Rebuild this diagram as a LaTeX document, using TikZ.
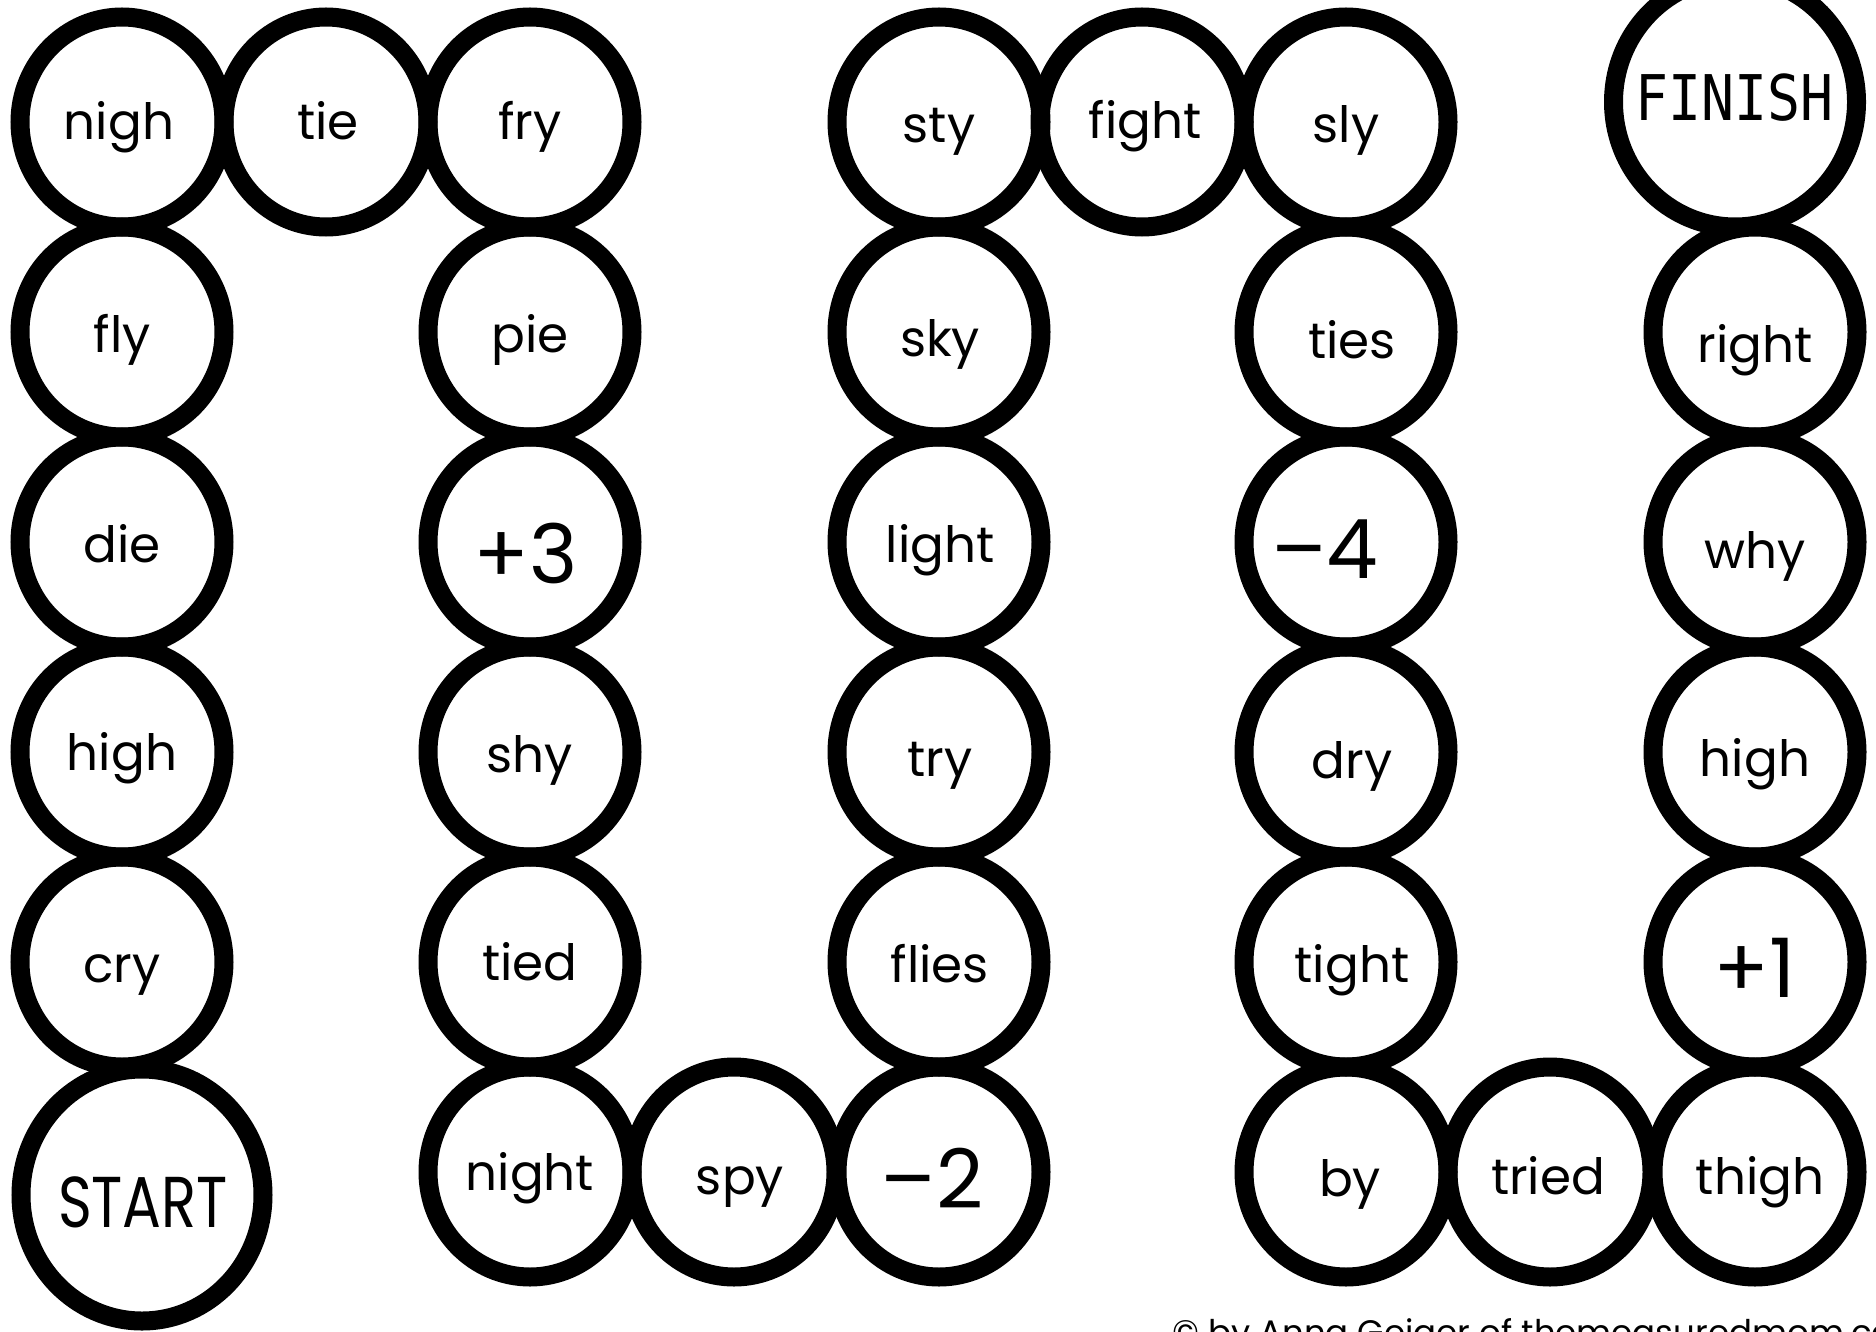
\documentclass[tikz,border=0pt]{standalone}
\usepackage{fontspec}
\setmainfont{Poppins}
\newfontfamily\monof{DejaVu Sans Mono}
\usetikzlibrary{shapes.geometric}
\newcommand\wrd[3]{\raisebox{-#3pt}[0pt][0pt]{\makebox[0pt]{\hspace{#2pt}\hspace{#2pt}#1}}}
\tikzset{
  spot/.style={ellipse, draw=black, line width=19pt, minimum width=204pt,
    minimum height=210pt, inner sep=0pt, outer sep=0pt,
    text height=0pt, text depth=0pt, font=\fontsize{50}{56}\selectfont},
  numspot/.style={spot, font=\fontsize{82}{90}\selectfont},
  bigspot/.style={spot, minimum width=242pt, minimum height=252pt},
}
\begin{document}
\begin{tikzpicture}[x=1pt,y=-1pt]
\useasboundingbox[fill=white] (0,0) rectangle (1876,1332);
% column 1
\node[spot] (nigh) at (122,122) {\wrd{nigh}{-3}{18}};
\node[spot] (fly)  at (122,332) {\wrd{fly}{0}{20}};
\node[spot] (die)  at (122,542) {\wrd{die}{0}{20}};
\node[spot] (highA) at (122,752) {\wrd{high}{0}{18}};
\node[spot] (cry)  at (122,962) {\wrd{cry}{0}{20}};
\node[bigspot, font=\fontsize{72}{80}\selectfont] (start) at (142,1195) {\wrd{\scalebox{0.8}[1]{START}}{1}{32}};
% top link
\node[spot] (tie)  at (326,122) {\wrd{tie}{2}{18}};
% column 2
\node[spot] (fry)  at (530,122) {\wrd{fry}{0}{18}};
\node[spot] (pie)  at (530,332) {\wrd{pie}{0}{20}};
\node[numspot] (p3) at (530,542) {\wrd{+3}{-4}{41}};
\node[spot] (shy)  at (530,752) {\wrd{shy}{0}{20}};
\node[spot] (tied) at (530,962) {\wrd{tied}{0}{18}};
\node[spot] (night) at (530,1172) {\wrd{night}{0}{18}};
% bottom link
\node[spot] (spy)  at (734,1172) {\wrd{spy}{6}{22}};
% column 3
\node[spot] (sty)  at (939,122) {\wrd{sty}{0}{21}};
\node[spot] (sky)  at (939,332) {\wrd{sky}{1}{24}};
\node[spot] (light) at (939,542) {\wrd{light}{1}{20}};
\node[spot] (try)  at (939,752) {\wrd{try}{1}{24}};
\node[spot] (flies) at (939,962) {\wrd{flies}{1}{20}};
\node[numspot] (m2) at (939,1172) {\wrd{–2}{-7}{36}};
% top link
\node[spot] (fight) at (1142,122) {\wrd{fight}{3}{17}};
% column 4
\node[spot] (sly)  at (1346,122) {\wrd{sly}{0}{21}};
\node[spot] (ties) at (1346,332) {\wrd{ties}{6}{26}};
\node[numspot] (m4) at (1346,542) {\wrd{–4}{-21}{36}};
\node[spot] (dry)  at (1346,752) {\wrd{dry}{6}{26}};
\node[spot] (tight) at (1346,962) {\wrd{tight}{6}{20}};
\node[spot] (by)   at (1346,1172) {\wrd{by}{4}{24}};
% bottom link
\node[spot] (tried) at (1550,1172) {\wrd{tried}{-2}{22}};
% column 5
\node[spot] (thigh) at (1755,1172) {\wrd{thigh}{5}{22}};
\node[numspot] (p1) at (1755,962) {\wrd{+1}{0}{35}};
\node[spot] (highB) at (1755,752) {\wrd{high}{0}{24}};
\node[spot] (why)  at (1755,542) {\wrd{why}{0}{26}};
\node[spot] (right) at (1755,332) {\wrd{right}{0}{30}};
\node[bigspot, minimum width=243pt, minimum height=250pt, font=\monof\fontsize{63}{70}\selectfont] (finish) at (1735,102) {\wrd{\scalebox{0.87}[1]{FINISH}}{-1}{19}};
% copyright
\node[anchor=base west, inner sep=0pt, font=\fontsize{34}{40}\selectfont] (copy) at (1172,1344) {© by Anna Geiger of themeasuredmom.com};
\end{tikzpicture}
\end{document}
